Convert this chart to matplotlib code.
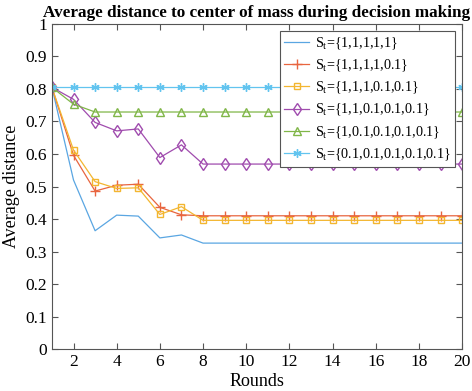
import numpy as np
import matplotlib
matplotlib.use("Agg")
import matplotlib.pyplot as plt

rounds = np.arange(1, 21)

# average distance per round for each setting of S_t
d_all1 = [0.805, 0.52, 0.364, 0.412, 0.409, 0.342, 0.351] + [0.326] * 13
d_one01 = [0.805, 0.596, 0.486, 0.504, 0.507, 0.436, 0.413] + [0.41] * 13
d_two01 = [0.805, 0.612, 0.515, 0.494, 0.496, 0.414, 0.438] + [0.396] * 13
d_three01 = [0.805, 0.768, 0.697, 0.671, 0.677, 0.589, 0.628] + [0.569] * 13
d_four01 = [0.805, 0.753] + [0.729] * 18
d_all01 = [0.805] * 20

labels = [
    r"S$_\mathrm{t}$={1,1,1,1,1}",
    r"S$_\mathrm{t}$={1,1,1,1,0.1}",
    r"S$_\mathrm{t}$={1,1,1,0.1,0.1}",
    r"S$_\mathrm{t}$={1,1,0.1,0.1,0.1}",
    r"S$_\mathrm{t}$={1,0.1,0.1,0.1,0.1}",
    r"S$_\mathrm{t}$={0.1,0.1,0.1,0.1,0.1}",
]

plt.rcParams["font.family"] = "Liberation Serif"
plt.rcParams["mathtext.fontset"] = "custom"
plt.rcParams["mathtext.rm"] = "Liberation Serif"

fig = plt.figure(figsize=(4.72, 3.91), dpi=100)
ax = fig.add_axes([0.110, 0.107, 0.869, 0.832])

lw = 0.9
ax.plot(rounds, d_all1, "-", color="#5aa6e2", linewidth=lw, label=labels[0])
ax.plot(rounds, d_one01, "-", marker="+", color="#e8653f", linewidth=lw,
        markersize=7, label=labels[1])
ax.plot(rounds, d_two01, "-", marker="s", color="#f3b630", linewidth=lw,
        markersize=5, markerfacecolor="none", label=labels[2])
ax.plot(rounds, d_three01, "-", marker="d", color="#a04cae", linewidth=lw,
        markersize=6.5, markerfacecolor="none", label=labels[3])
ax.plot(rounds, d_four01, "-", marker="^", color="#80b648", linewidth=lw,
        markersize=6, markerfacecolor="none", label=labels[4])
ax.plot(rounds, d_all01, "-", marker=(6, 2, 0), color="#62c4ef", linewidth=lw,
        markersize=6, label=labels[5])

ax.set_xlim(1, 20)
ax.set_ylim(0, 1)
ax.set_xticks(np.arange(2, 21, 2))
ax.set_yticks(np.arange(0, 1.01, 0.1))
ax.set_yticklabels(["0"] + [f"{v:.1f}" for v in np.arange(0.1, 0.95, 0.1)] + ["1"])
ax.tick_params(direction="in", top=True, right=True, labelsize=12.5,
               length=4, color="#555555")
for s in ax.spines.values():
    s.set_color("#555555")
    s.set_linewidth(0.8)

ax.set_xlabel("Rounds", fontsize=13, labelpad=2)
ax.set_ylabel("Average distance", fontsize=13, labelpad=4)
ax.set_title("Average distance to center of mass during decision making",
             fontsize=12.3, fontweight="bold", pad=5)

leg = ax.legend(loc="upper right", fontsize=10.2, fancybox=False,
                edgecolor="#555555", framealpha=1, handlelength=1.8,
                borderaxespad=0.5, labelspacing=0.42, borderpad=0.3,
                handletextpad=0.4)
leg.get_frame().set_linewidth(0.8)

plt.savefig("out.png", dpi=100)
plt.close(fig)
